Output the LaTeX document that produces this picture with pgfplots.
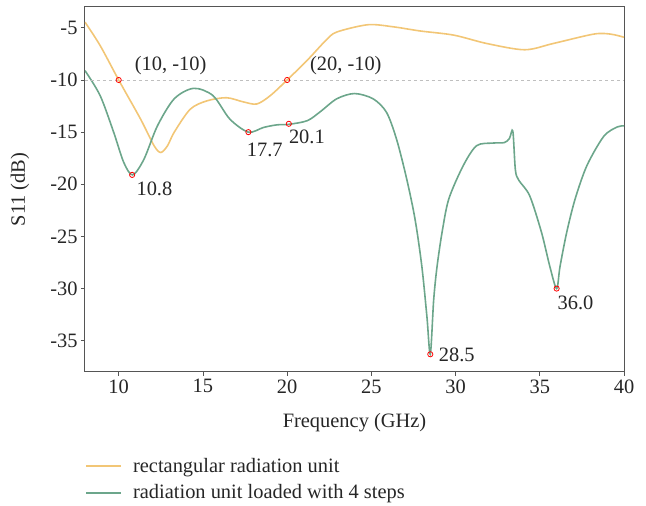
\documentclass[border=0pt]{standalone}
\usepackage{pgfplots}
\pgfplotsset{compat=1.18}
\usepackage{fontspec}
\setmainfont{Liberation Serif}
\definecolor{orng}{HTML}{F2C676}
\definecolor{grn}{HTML}{6CA68B}
\definecolor{axgray}{HTML}{555555}
\newcommand{\ff}{\fontsize{20.5}{24}\selectfont}
\begin{document}
\begin{tikzpicture}
\begin{axis}[
 name=ax,
 scale only axis, width=539bp, height=365bp,
 xmin=8, xmax=40, ymin=-38, ymax=-3,
 xtick={10,15,20,25,30,35,40},
 xticklabels={10,15,20,25,30,35,40},
 ytick={-35,-30,-25,-20,-15,-10,-5},
 yticklabels={-35,-30,-25,-20,-15,-10,-5},
 tick align=outside, xtick pos=bottom, ytick pos=left,
 major tick length=4bp,
 axis line style={axgray, line width=1bp},
 tick style={axgray, line width=0.8bp},
 ticklabel style={font=\ff, text=black!85},
 xlabel={Frequency (GHz)}, ylabel={S11 (dB)},
 xlabel style={font=\ff, text=black!85, at={(axis description cs:0.5,-0.1397)}, anchor=center},
 ylabel style={font=\ff, text=black!85, at={(axis description cs:-0.1206,0.5)}, anchor=center},
 legend style={at={(axis description cs:0,0)}, anchor=north west, yshift=-82bp, xshift=-3bp,
   draw=none, fill=none, font=\ff, text=black!85, row sep=7bp, cells={anchor=west}},
 legend image code/.code={\draw[#1, line width=2.2bp] (0bp,0bp) -- (35bp,0bp); \path (44bp,0bp);},
]
\addplot[orng, line width=1.6bp, smooth, tension=0.5] coordinates {
(8,-4.45) (8.9,-6.7) (10,-10) (11.3,-13.75) (12.1,-16.3) (12.5,-16.95) (12.9,-16.3) (13.3,-15.0) (14.25,-12.8) (15.24,-12.0) (16.4,-11.7) (17.4,-12.1) (18.2,-12.3) (19.0,-11.5) (20,-10) (21.2,-8.1) (22.3,-6.2) (22.95,-5.4) (24.8,-4.7) (26.3,-4.9) (27.9,-5.3) (29.9,-5.7) (31.85,-6.5) (34.1,-7.1) (35.8,-6.5) (38.2,-5.6) (39.2,-5.6) (40,-5.9)};
\addlegendentry{rectangular radiation unit}
\addplot[grn, line width=1.6bp, smooth, tension=0.5] coordinates {
(8,-9.1) (8.9,-11.5) (9.7,-15.0) (10.3,-17.9) (10.83,-19.1) (11.5,-17.6) (12.3,-14.4) (13.3,-11.8) (14.45,-10.8) (15.6,-11.5) (16.6,-13.75) (17.7,-15.0) (18.6,-14.55) (19.4,-14.3) (20.1,-14.25) (21.2,-13.9) (22.0,-13.0) (22.95,-11.8) (24.0,-11.3) (25.1,-11.8) (25.9,-13.1) (26.5,-15.7) (27.1,-19.5) (27.6,-23.4) (28.0,-27.9) (28.3,-32.7) (28.5,-36.3) (28.7,-31.1) (28.9,-27.9) (29.2,-24.6) (29.6,-21.4) (30.46,-18.2) (31.25,-16.3) (32.2,-16.05) (32.9,-16.0) (33.2,-15.6) (33.4,-14.9) (33.55,-18.6) (33.75,-19.6) (34.4,-21.1) (35.1,-24.6) (35.6,-27.9) (36.0,-30.0) (36.2,-27.9) (36.6,-24.6) (37.1,-21.4) (37.8,-18.2) (38.8,-15.4) (39.6,-14.5) (40,-14.4)};
\addlegendentry{radiation unit loaded with 4 steps}
\addplot[black!25, dashed, line width=0.8bp, forget plot] coordinates {(8,-10) (40,-10)};
\addplot[only marks, mark=o, mark size=2.6bp, draw=red, forget plot, mark options={fill=red!8, line width=0.8bp}] coordinates {
(10,-10) (20,-10) (10.8,-19.1) (17.7,-15.0) (20.1,-14.2) (28.5,-36.3) (36.0,-30.0)};
\node[anchor=west, inner sep=0, font=\ff, text=black!85] at (axis cs:10.95,-8.65) {(10, -10)};
\node[anchor=west, inner sep=0, font=\ff, text=black!85] at (axis cs:21.35,-8.65) {(20, -10)};
\node[anchor=west, inner sep=0, font=\ff, text=black!85] at (axis cs:11.05,-20.4) {10.8};
\node[anchor=west, inner sep=0, font=\ff, text=black!85] at (axis cs:17.6,-16.7) {17.7};
\node[anchor=west, inner sep=0, font=\ff, text=black!85] at (axis cs:20.1,-15.5) {20.1};
\node[anchor=west, inner sep=0, font=\ff, text=black!85] at (axis cs:29.0,-36.4) {28.5};
\node[anchor=west, inner sep=0, font=\ff, text=black!85] at (axis cs:36.05,-31.4) {36.0};
\end{axis}
\pgfresetboundingbox
\path ([shift={(-85bp,-134bp)}]ax.south west) rectangle ([shift={(22bp,7bp)}]ax.north east);
\end{tikzpicture}
\end{document}
